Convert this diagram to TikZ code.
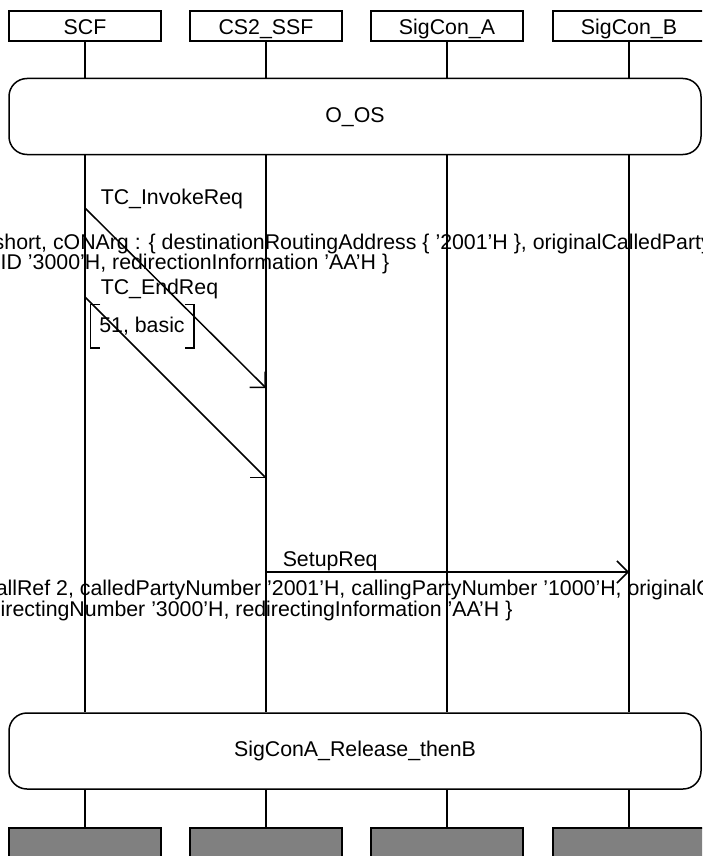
\documentclass[tikz,border=0pt]{standalone}
\usepackage{fontspec}
\setmainfont{Liberation Sans}
\usetikzlibrary{arrows.meta}
\definecolor{endgray}{HTML}{808080}
\begin{document}
\begin{tikzpicture}[x=1pt,y=-1pt,
  font=\fontsize{21.33}{24}\selectfont,
  line width=1.5pt,
  head/.style={draw, minimum width=152pt, minimum height=30pt, inner sep=0pt, text height=17pt, text depth=0pt},
  endbox/.style={draw, fill=endgray, minimum width=152pt, minimum height=40pt, anchor=north, inner sep=0pt},
  refbox/.style={draw, rounded corners=18pt, minimum width=692pt, minimum height=76pt, inner sep=0pt, text height=15.5pt, text depth=4.5pt},
  lbl/.style={anchor=base west, inner sep=0pt},
  msg/.style={-{Straight Barb[length=11pt,width=22pt]}}]
\useasboundingbox (0,0) rectangle (702,856);
\clip (0,0) rectangle (702,856);

% instance heads
\node[head] (h1) at (85,26) {SCF};
\node[head] (h2) at (266,26) {CS2\_SSF};
\node[head] (h3) at (447,26) {SigCon\_A};
\node[head] (h4) at (629,26) {SigCon\_B};

% references
\node[refbox] (os) at (355,116.5) {O\_OS};
\node[refbox, minimum height=76pt] (rel) at (355,751) {SigConA\_Release\_thenB};

% end boxes
\node[endbox] (e1) at (85,827) {};
\node[endbox] (e2) at (266,827) {};
\node[endbox] (e3) at (447,827) {};
\node[endbox] (e4) at (629,827) {};

% lifelines
\foreach \i in {1,2,3,4}{
  \draw (h\i.south) -- (h\i.south |- os.north);
  \draw (h\i.south |- os.south) -- (h\i.south |- rel.north);
  \draw (h\i.south |- rel.south) -- (e\i.north);
}

% messages
\coordinate (a1) at (85,208);
\coordinate (b1) at (266,388);
\draw[msg] (a1) -- (b1);
\coordinate (a2) at (85,297);
\coordinate (b2) at (266,478);
\draw[msg] (a2) -- (b2);
\coordinate (a3) at (266,572);
\coordinate (b3) at (629,572);
\draw[msg] (a3) -- (b3);

% labels
\node[lbl] (l1) at (100,204) {TC\_InvokeReq};
\node[lbl] (p1a) at (-7,249) {short, cONArg : \{ destinationRoutingAddress \{ ’2001’H \}, originalCalledParty};
\node[lbl] (p1b) at (0,269) {ID ’3000’H, redirectionInformation ’AA’H \}};
\node[lbl] (l2) at (100,294) {TC\_EndReq};
\node[minimum width=102pt, minimum height=42pt, inner sep=0pt] (par) at (142,326) {51, basic};
\draw ([xshift=10pt]par.north west) -- (par.north west) -- (par.south west) -- ([xshift=10pt]par.south west);
\draw ([xshift=-9pt]par.north east) -- (par.north east) -- (par.south east) -- ([xshift=-9pt]par.south east);
\node[lbl] (l3) at (282,566) {SetupReq};
\node[lbl] (p3a) at (-5,595) {allRef 2, calledPartyNumber ’2001’H, callingPartyNumber ’1000’H, originalC};
\node[lbl] (p3b) at (0,616) {irectingNumber ’3000’H, redirectingInformation ’AA’H \}};
\end{tikzpicture}
\end{document}
